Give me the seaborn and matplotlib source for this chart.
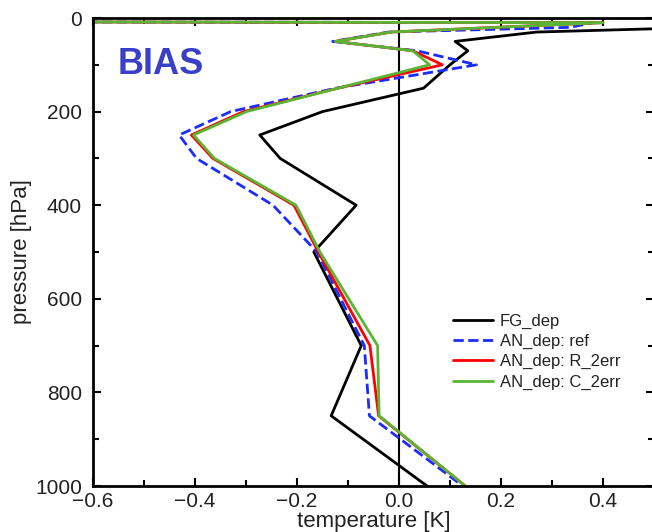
import matplotlib
matplotlib.use("Agg")
import matplotlib.pyplot as plt
from matplotlib.ticker import MultipleLocator
import seaborn as sns
import pandas as pd

# ---- data ----
pressure = [5, 10, 20, 30, 50, 70, 100, 150, 200, 250, 300, 400, 500, 700, 850, 1000]
fg_dep   = [3.0, 2.0, 0.6, 0.27, 0.11, 0.135, 0.10, 0.048, -0.15, -0.273, -0.233, -0.084, -0.167, -0.074, -0.133, 0.055]
an_ref   = [-3.0, 0.38, 0.335, -0.02, -0.13, 0.035, 0.152, -0.124, -0.33, -0.431, -0.397, -0.247, -0.161, -0.068, -0.058, 0.125]
an_r2err = [-3.0, 0.40, 0.19, -0.015, -0.125, 0.027, 0.085, -0.12, -0.305, -0.407, -0.365, -0.206, -0.158, -0.057, -0.040, 0.13]
an_c2err = [-3.0, 0.40, 0.19, -0.015, -0.125, 0.027, 0.060, -0.12, -0.299, -0.403, -0.362, -0.202, -0.155, -0.042, -0.039, 0.13]

series_names = ["FG_dep", "AN_dep: ref", "AN_dep: R_2err", "AN_dep: C_2err"]
series_vals = [fg_dep, an_ref, an_r2err, an_c2err]
colors = ["black", "#1a2cff", "#ff0000", "#5ab534"]
styles = ["-", "--", "-", "-"]

sns.set_theme(style="ticks")
plt.rcParams["font.family"] = ["Liberation Sans", "DejaVu Sans"]

fig = plt.figure(figsize=(6.52, 5.32), dpi=100)
ax = fig.add_axes([93 / 652, 46 / 532, 561 / 652, 468 / 532])

for name, vals, c, ls in zip(series_names, series_vals, colors, styles):
    df = pd.DataFrame({"temperature": vals, "pressure": pressure})
    sns.lineplot(data=df, x="temperature", y="pressure", orient="y", sort=False,
                 estimator=None, color=c, linestyle=ls, linewidth=2.0,
                 label=name, ax=ax)

ax.axvline(0.0, color="black", linewidth=1.5, zorder=1)

ax.set_xlim(-0.6, 0.5)
ax.set_ylim(1000, 0)
ax.set_xticks([-0.6, -0.4, -0.2, 0.0, 0.2, 0.4])
ax.set_xticklabels(["\u22120.6", "\u22120.4", "\u22120.2", "0.0", "0.2", "0.4"])
ax.set_yticks([0, 200, 400, 600, 800, 1000])
ax.xaxis.set_minor_locator(MultipleLocator(0.1))
ax.yaxis.set_minor_locator(MultipleLocator(100))
ax.tick_params(which="both", direction="in", top=True, right=True, width=1.5,
               labelsize=15, color="black", labelcolor="#222222")
ax.tick_params(axis="x", pad=4)
ax.tick_params(axis="y", pad=8)
ax.tick_params(which="major", length=6)
ax.tick_params(which="minor", length=4)
for s in ax.spines.values():
    s.set_linewidth(2.0)
    s.set_color("black")

ax.set_xlabel("temperature [K]", fontsize=16, color="#222222", labelpad=0)
ax.set_ylabel("pressure [hPa]", fontsize=16, color="#222222", labelpad=2)

leg = ax.legend(loc="upper left", bbox_to_anchor=(453 / 652, 1 - 314 / 532),
                bbox_transform=fig.transFigure, frameon=False, fontsize=12,
                handlelength=2.4, handletextpad=0.4, labelspacing=0.3,
                borderpad=0, borderaxespad=0)
for t in leg.get_texts():
    t.set_color("#222222")

fig.text(118 / 652, 1 - 64 / 532, "BIAS", fontsize=26, fontweight="bold",
         color="#3a3fc8", va="center", ha="left")

fig.savefig("out.png", dpi=100)
